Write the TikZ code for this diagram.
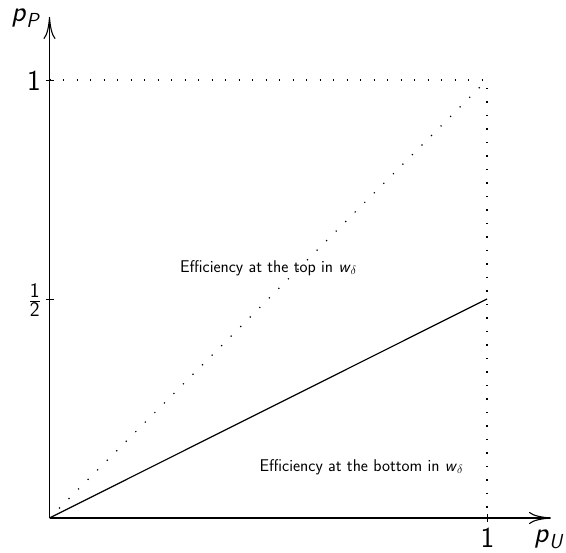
\documentclass[tikz,border=0pt]{standalone}
\usepackage{amsmath}
\usetikzlibrary{arrows.meta}
\newcommand{\sfi}[1]{\textsf{\textit{#1}}}
\begin{document}
\begin{tikzpicture}[x=1pt,y=-1pt,
  axis/.style={line width=1.4pt,-{To[length=22pt,width=12pt,line width=1.1pt]}},
  dotline/.style={line width=1.2pt,dash pattern=on 1.2pt off 12.3pt},
  big/.style={font=\fontsize{29}{33}\selectfont\sffamily},
  small/.style={font=\fontsize{17}{20}\selectfont\sffamily},
  tick/.style={line width=0.8pt}]
\useasboundingbox (0,0) rectangle (566,553);
\coordinate (O) at (49.5,518);
\coordinate (X) at (551,518);
\coordinate (Y) at (49.5,17);
\coordinate (A) at (487,518);
\coordinate (B) at (49.5,80);
\coordinate (C) at (487,80);
\coordinate (H) at (487,299);
\coordinate (M) at (49.5,299);
% dotted lines
\draw[dotline] (B) -- (C) -- (A);
\draw[dotline] (O) -- (C);
% solid line
\draw[line width=1.2pt] (O) -- (H);
% axes
\draw[axis] (O) -- (X);
\draw[axis] (O) -- (Y);
% ticks
\draw[tick] ([yshift=-4]A) -- ([yshift=4]A);
\draw[tick] ([xshift=-4]B) -- ([xshift=4]B);
\draw[tick] ([xshift=-4]M) -- ([xshift=4]M);
% labels
\node[big,anchor=base,inner sep=0pt] (lx1) at (487.5,548) {1};
\node[big,anchor=base east,inner sep=0pt] (ly1) at (41,91) {1};
\node[big,anchor=east,inner sep=0pt] (lyh) at (41,300) {$\frac{\mathsf{1}}{\mathsf{2}}$};
\node[big,anchor=base,inner sep=0pt] (lpP) at (26,22) {\sfi{p}$_{\text{\sfi{P}}}$};
\node[big,anchor=base,inner sep=0pt] (lpU) at (549,543) {\sfi{p}$_{\text{\sfi{U}}}$};
\node[small,inner sep=0pt] (top) at (268.5,268) {Efficiency at the top in \sfi{w}$_\delta$};
\node[small,inner sep=0pt] (bot) at (361.5,467) {Efficiency at the bottom in \sfi{w}$_\delta$};
\end{tikzpicture}
\end{document}
